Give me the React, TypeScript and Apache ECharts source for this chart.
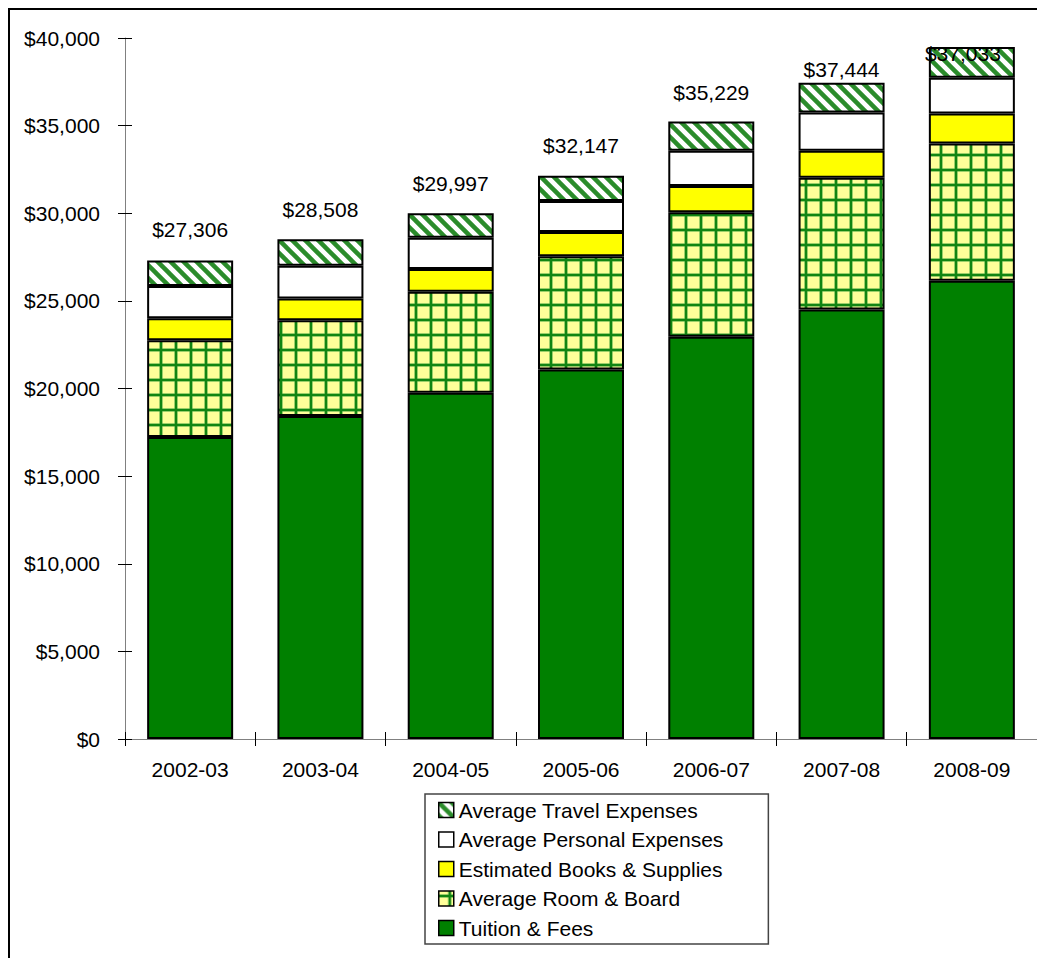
import React, { useEffect, useRef } from 'react';
import * as echarts from 'echarts';

const categories = ['2002-03', '2003-04', '2004-05', '2005-06', '2006-07', '2007-08', '2008-09'];
const tuitionFees = [17230, 18430, 19760, 21090, 22950, 24510, 26150];
const roomBoard = [5530, 5470, 5760, 6460, 7100, 7510, 7830];
const booksSupplies = [1255, 1240, 1295, 1385, 1500, 1540, 1710];
const personalExpenses = [1840, 1860, 1785, 1770, 2015, 2190, 2040];
const travelExpenses = [1450, 1510, 1400, 1440, 1665, 1695, 1750];
const totalLabels = ['$27,306', '$28,508', '$29,997', '$32,147', '$35,229', '$37,444', '$37,033'];
const yMin = 0;
const yMax = 40000;
const yInterval = 5000;

const FONT = 'Liberation Sans, Arial, sans-serif';

function stripeImage(): string {
  const s = 13;
  const c = document.createElement('canvas');
  c.width = s;
  c.height = s;
  const ctx = c.getContext('2d')!;
  ctx.fillStyle = '#ffffff';
  ctx.fillRect(0, 0, s, s);
  ctx.strokeStyle = '#2b8c2b';
  ctx.lineWidth = 4.5;
  for (let k = -2 * s; k <= 2 * s; k += s) {
    ctx.beginPath();
    ctx.moveTo(-s, k - s);
    ctx.lineTo(2 * s, k + 2 * s);
    ctx.stroke();
  }
  return c.toDataURL();
}

function gridImage(): string {
  const s = 15;
  const c = document.createElement('canvas');
  c.width = s;
  c.height = s;
  const ctx = c.getContext('2d')!;
  ctx.fillStyle = '#FFFF99';
  ctx.fillRect(0, 0, s, s);
  ctx.fillStyle = '#3aa03a';
  ctx.fillRect(9.5, 0, 3, s);
  ctx.fillRect(0, 3.5, s, 3);
  ctx.fillStyle = '#128512';
  ctx.fillRect(10, 0, 2, s);
  ctx.fillRect(0, 4, s, 2);
  return c.toDataURL();
}

export default function App() {
  const ref = useRef<HTMLDivElement>(null);
  useEffect(() => {
    if (!ref.current) return;
    const chart = echarts.init(ref.current, undefined, { renderer: 'svg' });
    const stripes = { image: stripeImage(), repeat: 'repeat', imageWidth: 13, imageHeight: 13 } as any;
    const grid = { image: gridImage(), repeat: 'repeat', imageWidth: 15, imageHeight: 15 } as any;
    const labelLift = [31, 30, 30, 30, 29, 13, -6];
    const labelShift = [0, 0, 0, 0, 0, 0, -9];
    const border = { borderColor: '#000', borderWidth: 2 };
    const common = { type: 'bar', stack: 'total', barWidth: 86, xAxisIndex: 0, yAxisIndex: 0 };
    chart.setOption({
      animation: false,
      backgroundColor: '#fff',
      textStyle: { fontFamily: FONT },
      graphic: [
        {
          type: 'rect',
          shape: { x: 9, y: 9, width: 1200, height: 1200 },
          style: { fill: 'none', stroke: '#000', lineWidth: 2 },
          silent: true,
        },
      ],
      grid: { left: 125, right: 0, top: 38, bottom: 219 },
      legend: {
        orient: 'vertical',
        left: 425,
        top: 794,
        padding: [5.5, 45, 5.5, 13],
        itemWidth: 15,
        itemHeight: 15,
        itemGap: 8.5,
        borderColor: '#444',
        borderWidth: 1.5,
        backgroundColor: '#fff',
        icon: 'rect',
        itemStyle: { borderColor: '#000', borderWidth: 1.5 },
        textStyle: { fontSize: 21, lineHeight: 21, color: '#000', fontFamily: FONT },
        data: [
          'Average Travel Expenses',
          'Average Personal Expenses',
          'Estimated Books & Supplies',
          'Average Room & Board',
          'Tuition & Fees',
        ],
      },
      xAxis: [
        {
          type: 'category',
          data: categories,
          axisLine: { lineStyle: { color: '#808080', width: 1 } },
          axisTick: { show: true, length: 7, lineStyle: { color: '#000' } },
          axisLabel: { fontSize: 21, color: '#000', margin: 20, fontFamily: FONT },
          splitLine: { show: false },
        },
        {
          type: 'category',
          data: categories,
          position: 'bottom',
          axisLine: { show: false },
          axisTick: { show: true, inside: true, length: 7, lineStyle: { color: '#000' } },
          axisLabel: { show: false },
          splitLine: { show: false },
        },
      ],
      yAxis: [
        {
          type: 'value',
          min: yMin,
          max: yMax,
          interval: yInterval,
          axisLine: { show: true, lineStyle: { color: '#808080', width: 1 } },
          axisTick: { show: true, length: 7, lineStyle: { color: '#000' } },
          axisLabel: {
            fontSize: 21,
            color: '#000',
            margin: 25,
            fontFamily: FONT,
            formatter: (v: number) => '$' + v.toLocaleString('en-US'),
          },
          splitLine: { show: false },
        },
        {
          type: 'value',
          min: yMin,
          max: yMax,
          interval: yInterval,
          position: 'left',
          axisLine: { show: false },
          axisTick: { show: true, inside: true, length: 7, lineStyle: { color: '#000' } },
          axisLabel: { show: false },
          splitLine: { show: false },
        },
      ],
      series: [
        {
          ...common,
          name: 'Tuition & Fees',
          data: tuitionFees,
          itemStyle: { color: '#008000', ...border },
        },
        {
          ...common,
          name: 'Average Room & Board',
          data: roomBoard,
          itemStyle: { color: grid, ...border },
        },
        {
          ...common,
          name: 'Estimated Books & Supplies',
          data: booksSupplies,
          itemStyle: { color: '#FFFF00', ...border },
        },
        {
          ...common,
          name: 'Average Personal Expenses',
          data: personalExpenses,
          itemStyle: { color: '#FFFFFF', ...border },
        },
        {
          ...common,
          name: 'Average Travel Expenses',
          data: travelExpenses.map((v, i) => ({
            value: v,
            label: { offset: [labelShift[i], -labelLift[i] + 10.5] },
          })),
          itemStyle: { color: stripes, ...border },
          label: {
            show: true,
            position: 'top',
            distance: 0,
            fontSize: 21,
            color: '#000',
            fontFamily: FONT,
            formatter: (p: any) => totalLabels[p.dataIndex],
          },
        },
      ],
    });
    return () => chart.dispose();
  }, []);
  return (
    <div style={{ position: 'fixed', left: 0, top: 0, width: 1037, height: 958, background: '#fff' }}>
      <div ref={ref} style={{ width: 1037, height: 958 }} />
    </div>
  );
}
